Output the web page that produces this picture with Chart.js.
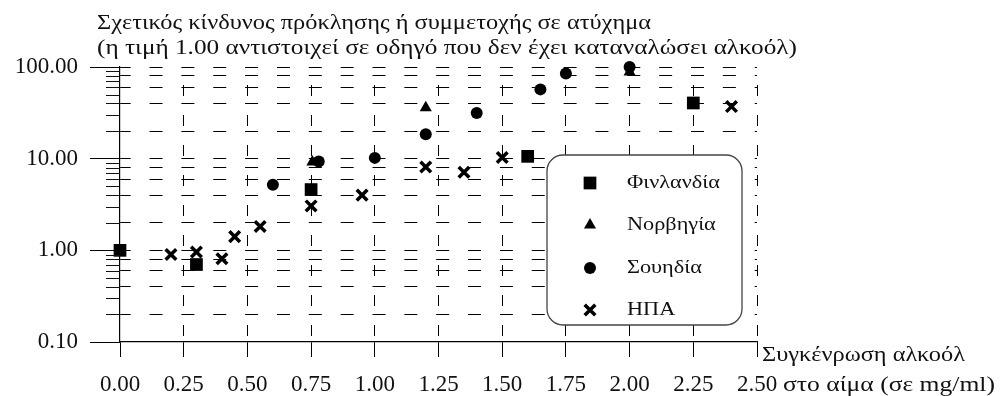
<!DOCTYPE html>
<html lang="el">
<head>
  <meta charset="UTF-8" />
  <title>Σχετικός κίνδυνος ατυχήματος</title>
  <script src="https://cdn.jsdelivr.net/npm/chart.js"></script>
  <style>
    html, body { margin: 0; padding: 0; background: #fff; }
    #wrap { width: 1001px; height: 396px; }
  </style>
</head>
<body>
  <div id="wrap"><canvas id="riskChart"></canvas></div>

  <script>
    // values
    const finlandX = [0, 0.3, 0.75, 1.6, 2.25];
    const finlandY = [1.0, 0.7, 4.6, 10.6, 40.5];

    const norwayX = [0.755, 1.2, 2.0];
    const norwayY = [9.2, 36, 88];

    const swedenX = [0.6, 0.78, 1.0, 1.2, 1.4, 1.65, 1.75, 2.0];
    const swedenY = [5.2, 9.3, 10.2, 18.5, 31.5, 57, 85, 100];

    const usaX = [0.2, 0.3, 0.4, 0.45, 0.55, 0.75, 0.95, 1.2, 1.35, 1.5, 2.4];
    const usaY = [0.9, 0.96, 0.81, 1.41, 1.82, 3.05, 4.0, 8.1, 7.1, 10.3, 37];

    const seriesNames = ['Φινλανδία', 'Νορβηγία', 'Σουηδία', 'ΗΠΑ'];
    const yTickValues = [0.1, 1, 10, 100];
    const xMin = 0, xMax = 2.5, xStep = 0.25;

    const titleLines = [
      'Σχετικός κίνδυνος πρόκλησης ή συμμετοχής σε ατύχημα',
      '(η τιμή 1.00 αντιστοιχεί σε οδηγό που δεν έχει καταναλώσει αλκοόλ)'
    ];
    const xTitleLines = ['Συγκένρωση αλκοόλ', 'στο αίμα (σε mg/ml)'];

    const FONT = '"Liberation Serif", "Times New Roman", serif';
    const INK = '#111';

    const pts = (xs, ys) => xs.map((x, i) => ({ x: x, y: ys[i] }));

    // every 1..9 multiple inside each decade, for minor ticks and grid
    const allYTicks = [];
    for (let d = 0; d < yTickValues.length - 1; d++) {
      for (let m = 1; m <= 9; m++) allYTicks.push(+(yTickValues[d] * m).toPrecision(3));
    }
    allYTicks.push(yTickValues[yTickValues.length - 1]);

    function mantissa(v) {
      return Math.round(v / Math.pow(10, Math.floor(Math.log10(v) + 1e-9)));
    }
    const isMajor = v => yTickValues.some(t => Math.abs(t - v) < 1e-9);

    const datasets = [
      { label: seriesNames[0], data: pts(finlandX, finlandY), pointStyle: 'rect', pointRadius: 9, borderWidth: 0 },
      { label: seriesNames[1], data: pts(norwayX, norwayY), pointStyle: 'triangle', pointRadius: 7, borderWidth: 0 },
      { label: seriesNames[2], data: pts(swedenX, swedenY), pointStyle: 'circle', pointRadius: 6, borderWidth: 0 },
      { label: seriesNames[3], data: pts(usaX, usaY), pointStyle: 'crossRot', pointRadius: 7.5, borderWidth: 3.5 }
    ].map(d => Object.assign(d, {
      backgroundColor: '#000',
      borderColor: '#000',
      pointHoverRadius: d.pointRadius,
      clip: false
    }));

    // the source uses a wide serif: squeeze our serif sideways to the same width
    function wideText(ctx, text, x, y, width) {
      const w = ctx.measureText(text).width;
      ctx.save();
      ctx.translate(x, y);
      ctx.scale(width / w, 1);
      ctx.fillText(text, 0, 0);
      ctx.restore();
    }

    // texts around the plot, the small y ticks and the boxed legend
    const decorations = {
      id: 'decorations',
      afterDraw(chart) {
        const ctx = chart.ctx;
        const y = chart.scales.y;
        const area = chart.chartArea;
        ctx.save();

        // minor ticks left of the y axis
        ctx.strokeStyle = INK;
        ctx.lineWidth = 1;
        allYTicks.filter(v => !isMajor(v)).forEach(v => {
          const py = Math.round(y.getPixelForValue(v)) + 0.5;
          ctx.beginPath();
          ctx.moveTo(area.left - 14, py);
          ctx.lineTo(area.left, py);
          ctx.stroke();
        });

        ctx.fillStyle = INK;
        ctx.textBaseline = 'middle';
        ctx.textAlign = 'left';
        ctx.font = '21px ' + FONT;
        wideText(ctx, titleLines[0], 97, 23, 554);
        wideText(ctx, titleLines[1], 97, 48, 700);
        wideText(ctx, xTitleLines[0], 762, 355, 203);
        wideText(ctx, xTitleLines[1], 783, 385, 212);

        // legend box
        const bx = 547, by = 155, bw = 195, bh = 170, r = 16;
        ctx.beginPath();
        ctx.moveTo(bx + r, by);
        ctx.arcTo(bx + bw, by, bx + bw, by + bh, r);
        ctx.arcTo(bx + bw, by + bh, bx, by + bh, r);
        ctx.arcTo(bx, by + bh, bx, by, r);
        ctx.arcTo(bx, by, bx + bw, by, r);
        ctx.closePath();
        ctx.fillStyle = '#fff';
        ctx.fill();
        ctx.strokeStyle = '#444';
        ctx.lineWidth = 1.3;
        ctx.stroke();

        const rows = [183, 225, 268, 310];
        ctx.font = '19px ' + FONT;
        const stretch = 93 / ctx.measureText(seriesNames[0]).width;
        chart.data.datasets.forEach((ds, i) => {
          ctx.fillStyle = '#000';
          ctx.strokeStyle = '#000';
          ctx.lineWidth = ds.borderWidth;
          Chart.helpers.drawPoint(ctx, {
            pointStyle: ds.pointStyle,
            radius: ds.pointRadius,
            borderWidth: ds.borderWidth,
            rotation: 0
          }, 590, rows[i]);
          ctx.fillStyle = INK;
          wideText(ctx, ds.label, 627, rows[i], ctx.measureText(ds.label).width * stretch);
        });
        ctx.restore();
      }
    };

    new Chart(document.getElementById('riskChart'), {
      type: 'scatter',
      data: { datasets: datasets },
      plugins: [decorations],
      options: {
        responsive: true,
        maintainAspectRatio: false,
        animation: false,
        layout: { padding: { top: 67, right: 244, left: 0, bottom: 0 } },
        plugins: {
          legend: { display: false },
          tooltip: { enabled: false }
        },
        scales: {
          x: {
            type: 'linear',
            min: xMin,
            max: xMax,
            afterFit(scale) { scale.height = 54; },
            ticks: {
              stepSize: xStep,
              autoSkip: false,
              maxRotation: 0,
              padding: 14,
              color: INK,
              font: { family: FONT, size: 23 },
              callback: v => v.toFixed(2)
            },
            grid: {
              color: ctx => (ctx.tick && ctx.tick.value > xMin ? '#000' : 'rgba(0,0,0,0)'),
              lineWidth: 1,
              tickLength: 15,
              tickColor: '#000'
            },
            border: { display: true, color: '#000', width: 1.2, dash: [11, 19], dashOffset: 12 }
          },
          y: {
            type: 'logarithmic',
            min: yTickValues[0],
            max: yTickValues[yTickValues.length - 1],
            afterFit(scale) { scale.width = 120; },
            afterBuildTicks(scale) {
              scale.ticks = allYTicks.map(v => ({ value: v, major: isMajor(v) }));
            },
            ticks: {
              autoSkip: false,
              padding: 12,
              color: INK,
              font: { family: FONT, size: 23 },
              callback: v => (isMajor(v) ? v.toFixed(2) : '')
            },
            grid: {
              color: ctx => {
                if (!ctx.tick) return 'rgba(0,0,0,0)';
                const v = ctx.tick.value;
                if (v <= yTickValues[0] + 1e-9) return 'rgba(0,0,0,0)';
                const m = mantissa(v);
                return (m === 1 || m % 2 === 0) ? '#000' : 'rgba(0,0,0,0)';
              },
              lineWidth: 1,
              tickLength: 30,
              tickColor: ctx => (ctx.tick && isMajor(ctx.tick.value) ? '#000' : 'rgba(0,0,0,0)')
            },
            border: { display: true, color: '#000', width: 1.2, dash: [13, 18.85], dashOffset: 2.5 }
          }
        }
      }
    });
  </script>
</body>
</html>
